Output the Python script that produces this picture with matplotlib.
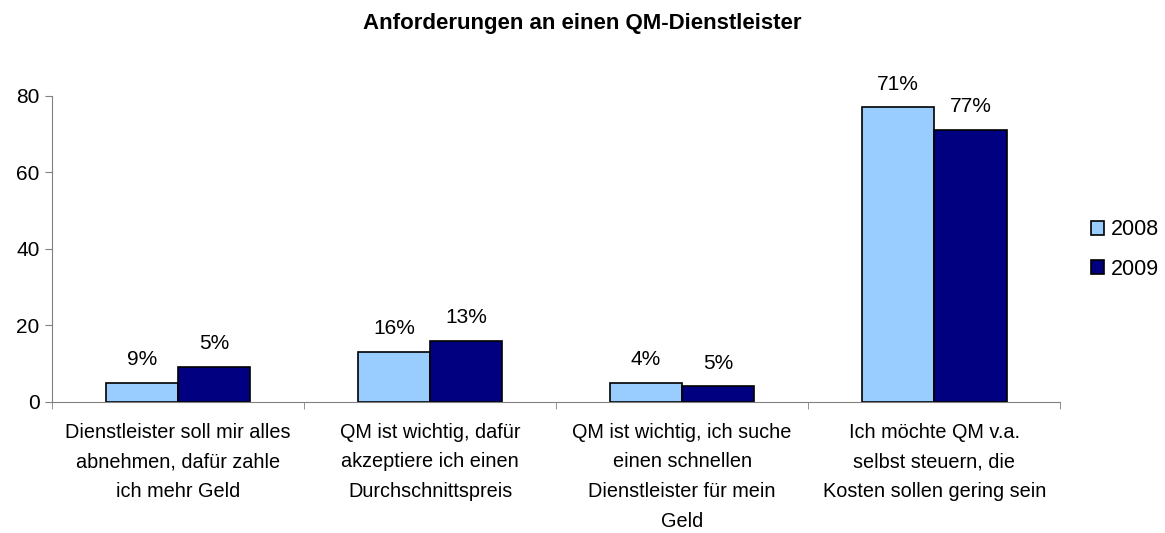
import matplotlib.pyplot as plt
import numpy as np

plt.rcParams['font.family'] = ['Liberation Sans', 'DejaVu Sans']

# Daten
categories = [
    "Dienstleister soll mir alles\nabnehmen, dafür zahle\nich mehr Geld",
    "QM ist wichtig, dafür\nakzeptiere ich einen\nDurchschnittspreis",
    "QM ist wichtig, ich suche\neinen schnellen\nDienstleister für mein\nGeld",
    "Ich möchte QM v.a.\nselbst steuern, die\nKosten sollen gering sein",
]
values_2008 = [5, 13, 5, 77]
values_2009 = [9, 16, 4, 71]
# Beschriftungen wie im Original (vertauscht)
labels_2008 = ["9%", "16%", "4%", "71%"]
labels_2009 = ["5%", "13%", "5%", "77%"]
years = ["2008", "2009"]
y_ticks = [0, 20, 40, 60, 80]

fig = plt.figure(figsize=(11.65, 5.33), dpi=100)
ax = fig.add_axes([0.0446, 0.2463, 0.8655, 0.5737])

x = np.arange(len(categories))
w = 0.287
b1 = ax.bar(x - w / 2, values_2008, w, color='#99CCFF', edgecolor='black', linewidth=1.2, label=years[0])
b2 = ax.bar(x + w / 2, values_2009, w, color='#000080', edgecolor='black', linewidth=1.2, label=years[1])

for bars, labs in [(b1, labels_2008), (b2, labels_2009)]:
    for rect, lab in zip(bars, labs):
        ax.annotate(lab, (rect.get_x() + rect.get_width() / 2, rect.get_height()),
                    xytext=(0, 10), textcoords='offset points',
                    ha='center', va='bottom', fontsize=15)

ax.set_xlim(-0.5, len(categories) - 0.5)
ax.set_ylim(0, 80)
ax.set_yticks(y_ticks)
ax.tick_params(axis='y', labelsize=15, length=5, color='#808080', pad=4)

ax.set_xticks(x)
ax.set_xticklabels(categories, fontsize=14.3, linespacing=1.72)
ax.tick_params(axis='x', which='major', length=0, pad=15)
ax.set_xticks(np.arange(-0.5, len(categories)), minor=True)
ax.tick_params(axis='x', which='minor', length=5, color='#808080')

for s in ['top', 'right']:
    ax.spines[s].set_visible(False)
for s in ['left', 'bottom']:
    ax.spines[s].set_color('#808080')

fig.text(0.5, 1 - 29 / 533, "Anforderungen an einen QM-Dienstleister", ha='center', va='baseline',
         fontsize=16, fontweight='bold')

fig.legend(handles=[b1, b2], loc='center left', bbox_to_anchor=(0.929, 0.532),
           frameon=False, fontsize=15.5, handlelength=0.6, handleheight=0.6,
           handletextpad=0.35, labelspacing=0.85, borderaxespad=0)

fig.savefig('out.png', dpi=100)
